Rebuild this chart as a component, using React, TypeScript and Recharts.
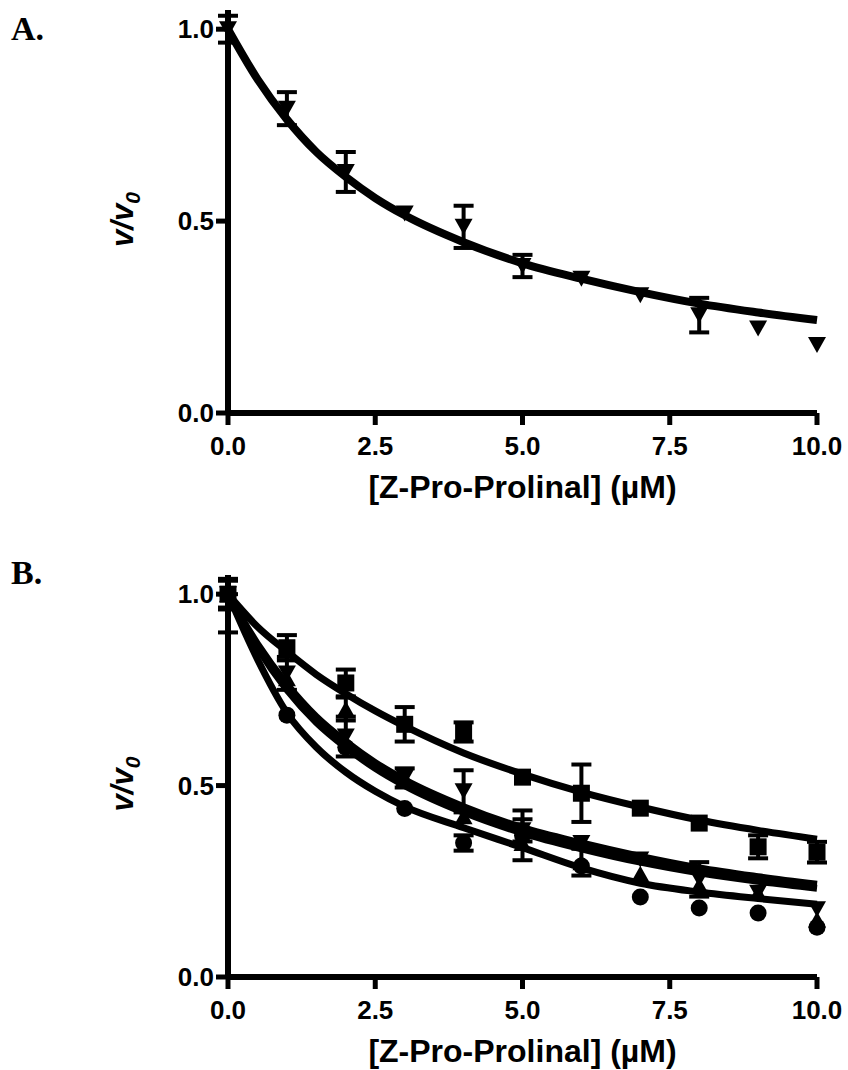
import React from 'react';
import { ComposedChart, Line, Scatter, ErrorBar, XAxis, YAxis, Label } from 'recharts';

// [Z-Pro-Prolinal] in µM
const doses = [0, 1, 2, 3, 4, 5, 6, 7, 8, 9, 10];
const fitDoses = [0, 0.5, 1, 1.5, 2, 2.5, 3, 4, 5, 6, 7, 8, 9, 10];
const xTicks = [0, 2.5, 5, 7.5, 10];
const yTicks = [0, 0.5, 1.0];

// ▼ series (panel A, repeated in panel B)
const invTriMean = [1.0, 0.793, 0.628, 0.52, 0.485, 0.383, 0.35, 0.307, 0.255, 0.22, 0.177];
const invTriErr = [0.035, 0.043, 0.052, 0, 0.055, 0.029, 0, 0, 0.045, 0, 0];
const invTriFit = [1.0, 0.87, 0.765, 0.68, 0.615, 0.56, 0.515, 0.445, 0.39, 0.35, 0.315, 0.285, 0.262, 0.242];

// ■ series (panel B)
const squareMean = [1.0, 0.86, 0.768, 0.66, 0.64, 0.522, 0.48, 0.441, 0.402, 0.34, 0.326];
const squareErr = [0.04, 0.033, 0.035, 0.045, 0.025, 0, 0.075, 0, 0, 0.03, 0.027];
const squareFit = [1.0, 0.915, 0.85, 0.79, 0.74, 0.695, 0.655, 0.585, 0.53, 0.483, 0.444, 0.41, 0.383, 0.36];

// ▲ series (panel B)
const triMean = [1.0, 0.78, 0.7, 0.52, 0.42, 0.35, 0.3, 0.27, 0.24, 0.22, 0.15];
const triErr = [0, 0, 0.03, 0.025, 0, 0, 0.035, 0, 0, 0, 0];
const triFit = [1.0, 0.86, 0.75, 0.665, 0.6, 0.545, 0.5, 0.43, 0.376, 0.335, 0.3, 0.272, 0.25, 0.232];

// ● series (panel B)
const circMean = [1.0, 0.684, 0.6, 0.44, 0.35, 0.37, 0.29, 0.209, 0.18, 0.167, 0.13];
const circErr: (number | number[])[] = [[0.1, 0], 0, 0, 0, 0.02, 0.065, 0, 0, 0, 0, 0];
const circFit = [1.0, 0.83, 0.69, 0.6, 0.535, 0.485, 0.445, 0.39, 0.338, 0.285, 0.245, 0.222, 0.205, 0.19];

type Pt = { x: number; y: number };

const toPoints = (xs: number[], ys: number[]): Pt[] => xs.map((x, i) => ({ x, y: ys[i] }));

const toErrPoints = (xs: number[], ys: number[], errs: (number | number[])[]) =>
  xs
    .map((x, i) => ({ x, y: ys[i], err: errs[i] }))
    .filter((p) => (Array.isArray(p.err) ? true : p.err > 0));

const INK = '#000';
const FONT = '"Liberation Sans", Arial, Helvetica, sans-serif';

const DownTri = (p: any) => {
  const { cx, cy } = p;
  return <polygon points={`${cx - 9},${cy - 8} ${cx + 9},${cy - 8} ${cx},${cy + 8}`} fill={INK} />;
};
const UpTri = (p: any) => {
  const { cx, cy } = p;
  return <polygon points={`${cx - 9},${cy + 8} ${cx + 9},${cy + 8} ${cx},${cy - 8}`} fill={INK} />;
};
const Square = (p: any) => <rect x={p.cx - 8.5} y={p.cy - 8.5} width={17} height={17} fill={INK} />;
const Dot = (p: any) => <circle cx={p.cx} cy={p.cy} r={8.5} fill={INK} />;
const NoMark = () => <g />;

type Series = {
  name: string;
  points: Pt[];
  errors: { x: number; y: number; err: number | number[] }[];
  fit: Pt[];
  shape: (p: any) => React.ReactElement;
};

const invTriSeries: Series = {
  name: 'down',
  points: toPoints(doses, invTriMean),
  errors: toErrPoints(doses, invTriMean, invTriErr),
  fit: toPoints(fitDoses, invTriFit),
  shape: DownTri,
};

const panelBSeries: Series[] = [
  {
    name: 'square',
    points: toPoints(doses, squareMean),
    errors: toErrPoints(doses, squareMean, squareErr),
    fit: toPoints(fitDoses, squareFit),
    shape: Square,
  },
  invTriSeries,
  {
    name: 'up',
    points: toPoints(doses, triMean),
    errors: toErrPoints(doses, triMean, triErr),
    fit: toPoints(fitDoses, triFit),
    shape: UpTri,
  },
  {
    name: 'circle',
    points: toPoints(doses, circMean),
    errors: toErrPoints(doses, circMean, circErr),
    fit: toPoints(fitDoses, circFit),
    shape: Dot,
  },
];

const XTitle = (props: any) => {
  const vb = props.viewBox || {};
  return (
    <text
      x={vb.x + vb.width / 2}
      y={vb.y + 85}
      textAnchor="middle"
      fontFamily={FONT}
      fontWeight="bold"
      fontSize={32}
      fill={INK}
    >
      [Z-Pro-Prolinal] (µM)
    </text>
  );
};

const YTitle = (props: any) => {
  const vb = props.viewBox || {};
  const x = vb.x + 5;
  const y = vb.y + vb.height / 2 + 8;
  return (
    <text
      x={x}
      y={y}
      transform={`rotate(-90, ${x}, ${y})`}
      textAnchor="middle"
      fontFamily={FONT}
      fontWeight="bold"
      fontStyle="italic"
      fontSize={31}
      fill={INK}
    >
      v/v
      <tspan fontSize={21} dy={7}>
        0
      </tspan>
    </text>
  );
};

const tickStyle = { fill: INK, fontSize: 26, fontWeight: 'bold', fontFamily: FONT };

function Panel({ series, top, lineWidth }: { series: Series[]; top: number; lineWidth: number }) {
  const height = 510;
  const plotBottom = top === 10 ? 413 : 417;
  return (
    <ComposedChart
      width={848}
      height={height}
      margin={{ top, right: 31, bottom: height - plotBottom - 40, left: 128 }}
    >
      <XAxis
        type="number"
        dataKey="x"
        domain={[0, 10]}
        ticks={xTicks}
        height={40}
        tickFormatter={(v: number) => v.toFixed(1)}
        tick={tickStyle}
        tickSize={12}
        tickMargin={12}
        axisLine={{ stroke: INK, strokeWidth: 6 }}
        tickLine={{ stroke: INK, strokeWidth: 5 }}
      >
        <Label content={XTitle} />
      </XAxis>
      <YAxis
        type="number"
        dataKey="y"
        domain={[0, 1.05]}
        ticks={yTicks}
        width={100}
        tickFormatter={(v: number) => v.toFixed(1)}
        tick={tickStyle}
        tickSize={12}
        tickMargin={2}
        axisLine={{ stroke: INK, strokeWidth: 6 }}
        tickLine={{ stroke: INK, strokeWidth: 5 }}
      >
        <Label content={YTitle} />
      </YAxis>
      {series.map((s) => (
        <Line
          key={`fit-${s.name}`}
          data={s.fit}
          dataKey="y"
          type="monotone"
          stroke={INK}
          strokeWidth={lineWidth}
          dot={false}
          activeDot={false}
          isAnimationActive={false}
        />
      ))}
      {series.map((s) => (
        <Scatter
          key={`pts-${s.name}`}
          data={s.points}
          dataKey="y"
          shape={s.shape}
          isAnimationActive={false}
        />
      ))}
      {series.map((s) => (
        <Scatter
          key={`err-${s.name}`}
          data={s.errors}
          dataKey="y"
          shape={NoMark}
          isAnimationActive={false}
        >
          <ErrorBar dataKey="err" direction="y" width={10} stroke={INK} strokeWidth={4} />
        </Scatter>
      ))}
    </ComposedChart>
  );
}

export default function App() {
  return (
    <div style={{ position: 'absolute', left: 0, top: 0, width: 848, height: 1070, background: '#fff' }}>
      <svg width={848} height={1070} style={{ position: 'absolute', left: 0, top: 0 }}>
        <text x={11} y={40} fontFamily='"Liberation Serif", "Times New Roman", serif' fontWeight="bold" fontSize={34} fill={INK}>
          A.
        </text>
        <text x={11} y={584} fontFamily='"Liberation Serif", "Times New Roman", serif' fontWeight="bold" fontSize={34} fill={INK}>
          B.
        </text>
      </svg>
      <div style={{ position: 'absolute', left: 0, top: 0 }}>
        <Panel series={[invTriSeries]} top={10} lineWidth={8} />
      </div>
      <div style={{ position: 'absolute', left: 0, top: 560 }}>
        <Panel series={panelBSeries} top={15} lineWidth={7} />
      </div>
    </div>
  );
}
